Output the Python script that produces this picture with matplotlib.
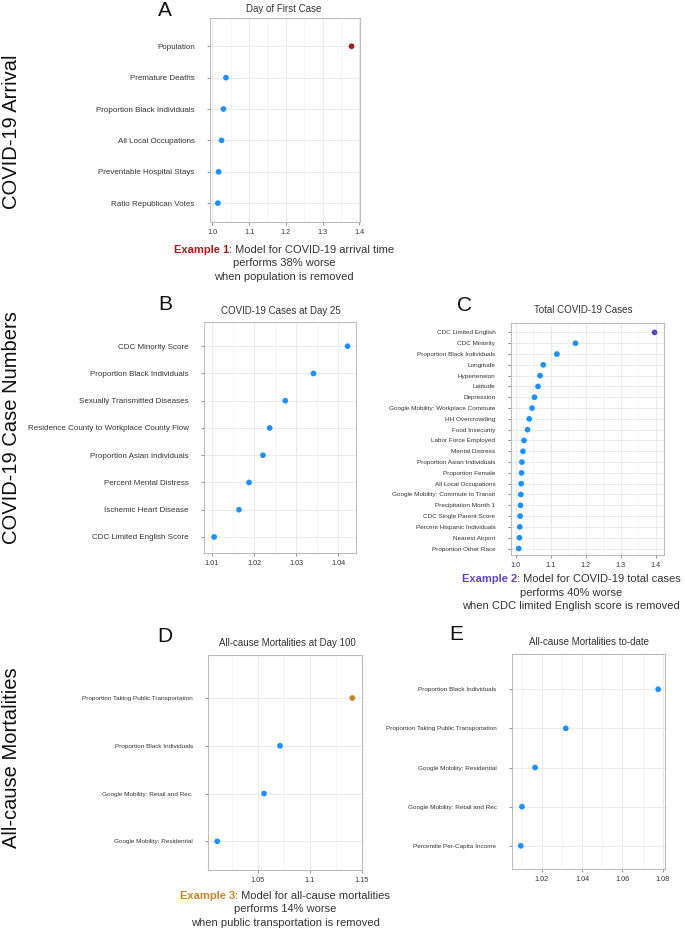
import matplotlib
matplotlib.use("Agg")
import matplotlib.pyplot as plt
from matplotlib.ticker import MultipleLocator, FormatStrFormatter

plt.rcParams['font.family'] = ['Liberation Sans', 'DejaVu Sans']

W, H = 685, 930

# panel A - day of first case
a_labels = ['Population', 'Premature Deaths', 'Proportion Black Individuals',
            'All Local Occupations', 'Preventable Hospital Stays', 'Ratio Republican Votes']
a_values = [1.379, 1.037, 1.030, 1.025, 1.017, 1.015]

# panel B - cases at day 25
b_labels = ['CDC Minority Score', 'Proportion Black Individuals', 'Sexually Transmitted Diseases',
            'Residence County to Workplace County Flow', 'Proportion Asian Individuals',
            'Percent Mental Distress', 'Ischemic Heart Disease', 'CDC Limited English Score']
b_values = [1.0422, 1.0341, 1.0274, 1.0237, 1.0221, 1.0188, 1.0164, 1.0105]

# panel C - total cases
c_labels = ['CDC Limited English', 'CDC Minority', 'Proportion Black Individuals', 'Longitude',
            'Hypertension', 'Latitude', 'Depression', 'Google Mobility: Workplace Commute',
            'HH Overcrowding', 'Food Insecurity', 'Labor Force Employed', 'Mental Distress',
            'Proportion Asian Individuals', 'Proportion Female', 'All Local Occupations',
            'Google Mobility: Commute to Transit', 'Precipitation Month 1',
            'CDC Single Parent Score', 'Percent Hispanic Individuals', 'Nearest Airport',
            'Proportion Other Race']
c_values = [1.396, 1.170, 1.117, 1.078, 1.069, 1.063, 1.053, 1.046, 1.038, 1.033, 1.023,
            1.020, 1.017, 1.016, 1.015, 1.014, 1.013, 1.012, 1.011, 1.010, 1.008]

# panel D - mortalities at day 100
d_labels = ['Proportion Taking Public Transportation', 'Proportion Black Individuals',
            'Google Mobility: Retail and Rec.', 'Google Mobility: Residential']
d_values = [1.1409, 1.0715, 1.0561, 1.0112]

# panel E - mortalities to date
e_labels = ['Proportion Black Individuals', 'Proportion Taking Public Transportation',
            'Google Mobility: Residential', 'Google Mobility: Retail and Rec',
            'Percentile Per-Capita Income']
e_values = [1.0777, 1.0319, 1.0167, 1.0102, 1.0096]

blue = '#1E90FF'
red = '#A51C1C'
purple = '#5B47C8'
orange = '#C5862B'
txt = '#333333'

fig = plt.figure(figsize=(W / 100, H / 100), dpi=100)


def fx(x):
    return x / W


def fy(y):
    return 1 - y / H


def panel(box, labels, values, hl, title, title_xy, letter, letter_xy,
          xlim, major, minor, fmt, lab_size):
    l, t, r, b = box
    ax = fig.add_axes([fx(l), fy(b), (r - l) / W, (b - t) / H])
    n = len(labels)
    ypos = list(range(n - 1, -1, -1))
    cols = [blue] * n
    if hl is not None:
        cols[0] = hl
    ax.scatter(values, ypos, s=17, c=cols, zorder=3, linewidths=0)
    ax.set_xlim(*xlim)
    ax.set_ylim(-0.6, n - 1 + 0.9)
    ax.set_yticks(ypos)
    ax.set_yticklabels(labels, fontsize=lab_size, color=txt)
    ax.xaxis.set_major_locator(MultipleLocator(major))
    ax.xaxis.set_minor_locator(MultipleLocator(minor))
    if fmt == 'g':
        ax.xaxis.set_major_formatter(lambda v, p: '%g' % round(v, 4))
    else:
        ax.xaxis.set_major_formatter(FormatStrFormatter(fmt))
    ax.grid(True, which='major', color='#E8E8E8', lw=0.6)
    ax.grid(True, which='minor', axis='x', color='#F1F1F1', lw=0.5)
    ax.set_axisbelow(True)
    ax.tick_params(axis='y', length=2, width=0.5, color='#666666', pad=9)
    ax.tick_params(axis='x', which='major', length=2, width=0.5, color='#666666',
                   pad=3, labelsize=5.2, labelcolor=txt)
    ax.tick_params(axis='x', which='minor', length=0)
    for s in ax.spines.values():
        s.set_color('#BDBDBD')
        s.set_linewidth(0.8)
    fig.text(fx(title_xy[0]), fy(title_xy[1]), title, ha='center', va='center',
             fontsize=7, color=txt)
    fig.text(fx(letter_xy[0]), fy(letter_xy[1]), letter, ha='center', va='center',
             fontsize=15, color='#111111')
    return ax


panel((210, 18, 360, 222), a_labels, a_values, red, 'Day of First Case', (284, 8.5),
      'A', (165, 10), (0.9935, 1.402), 0.1, 0.05, '%.1f', 5.75)
panel((204, 321.7, 356, 553.3), b_labels, b_values, None, 'COVID-19 Cases at Day 25',
      (281, 310.7), 'B', (165, 304), (1.0081, 1.0442), 0.01, 0.005, '%.2f', 5.75)
panel((510.7, 322.7, 664, 555), c_labels, c_values, purple, 'Total COVID-19 Cases',
      (583, 310), 'C', (465, 305.5), (0.985, 1.423), 0.1, 0.05, '%.1f', 4.55)
panel((208.3, 655, 362, 870), d_labels, d_values, orange, 'All-cause Mortalities at Day 100',
      (287, 642.7), 'D', (165, 636.7), (1.0026, 1.1502), 0.05, 0.025, 'g', 4.55)
panel((511.7, 654, 665, 869.3), e_labels, e_values, None, 'All-cause Mortalities to-date',
      (589, 642.3), 'E', (456, 635), (1.0051, 1.0811), 0.02, 0.01, '%.2f', 4.55)

# row labels
fig.text(fx(12), fy(132), 'COVID-19 Arrival', rotation=90, ha='center', va='center',
         fontsize=14.5, color='#111111')
fig.text(fx(12), fy(428), 'COVID-19 Case Numbers', rotation=90, ha='center', va='center',
         fontsize=14.5, color='#111111')
fig.text(fx(12), fy(758), 'All-cause Mortalities', rotation=90, ha='center', va='center',
         fontsize=14.5, color='#111111')

renderer = fig.canvas.get_renderer()


def note(xc, y, head, col, rest, more):
    t1 = fig.text(0, fy(y), head, color=col, weight='bold', fontsize=8, va='center')
    t2 = fig.text(0, fy(y), rest, color=txt, fontsize=8, va='center')
    w1 = t1.get_window_extent(renderer).width
    w2 = t2.get_window_extent(renderer).width
    x0 = xc - (w1 + w2) / 2
    t1.set_x(fx(x0))
    t2.set_x(fx(x0 + w1))
    for i, line in enumerate(more):
        fig.text(fx(xc), fy(y + 13.5 * (i + 1)), line, color=txt, fontsize=8,
                 ha='center', va='center')


note(284, 250, 'Example 1', red, ': Model for COVID-19 arrival time',
     ['performs 38% worse', 'when population is removed'])
note(571, 579.3, 'Example 2', purple, ': Model for COVID-19 total cases',
     ['performs 40% worse', 'when CDC limited English score is removed'])
note(285, 895.7, 'Example 3', orange, ': Model for all-cause mortalities',
     ['performs 14% worse', 'when public transportation is removed'])

fig.savefig('out.png', dpi=100)
